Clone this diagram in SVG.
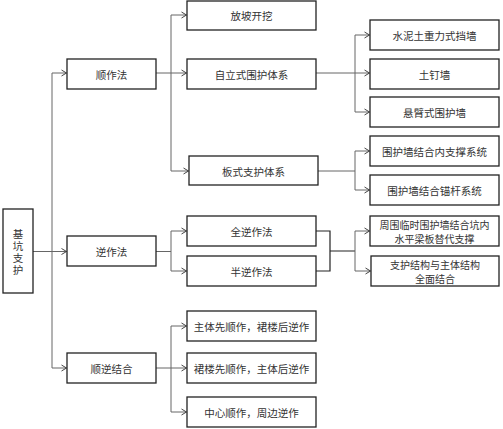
<svg xmlns="http://www.w3.org/2000/svg" width="503" height="429" viewBox="0 0 503 429">
<style>
.box{fill:#fff;stroke:#222;stroke-width:1.3}
.t{font-family:"Noto Sans CJK SC",sans-serif;font-size:10.5px;fill:#333;text-anchor:middle;dominant-baseline:central}
.t2{font-size:10px}
.c{fill:none;stroke:#666;stroke-width:1}
.d{fill:none;stroke:#222;stroke-width:1.2}
.a{fill:none;stroke:#666;stroke-width:1;marker-end:url(#ar)}
</style>
<defs>
<marker id="ar" markerWidth="8" markerHeight="8" refX="6" refY="4" orient="auto" markerUnits="userSpaceOnUse">
<polyline points="1,1 6,4 1,7" fill="none" stroke="#444" stroke-width="1"/>
</marker>
</defs>
<rect width="503" height="429" fill="#fff"/>
<g id="connectors">
<path class="c" d="M33,251.5H52M52,73V368"/>
<path class="a" d="M52,73H66.5"/>
<path class="a" d="M52,251.5H66.5"/>
<path class="a" d="M52,368H66.5"/>
<path class="c" d="M156,73H171M171,15V171"/>
<path class="a" d="M171,15H186.5"/>
<path class="a" d="M171,73H186.5"/>
<path class="a" d="M171,171H188.5"/>
<path class="c" d="M316,73H355M355,35V112"/>
<path class="a" d="M355,35H369.5"/>
<path class="a" d="M355,73H369.5"/>
<path class="a" d="M355,112H369.5"/>
<path class="c" d="M318,171H355M355,151V190"/>
<path class="a" d="M355,151H369.5"/>
<path class="a" d="M355,190H369.5"/>
<path class="c" d="M156,251.5H171M171,231V271"/>
<path class="a" d="M171,231H186.5"/>
<path class="a" d="M171,271H186.5"/>
<path class="d" d="M316,231H330V271H316M330,251H355"/>
<path class="c" d="M355,231V271"/>
<path class="a" d="M355,231H369.5"/>
<path class="a" d="M355,271H370.5"/>
<path class="c" d="M156,368H171M171,326V412"/>
<path class="a" d="M171,326H186.5"/>
<path class="a" d="M171,368H186.5"/>
<path class="a" d="M171,412H186.5"/>
</g>
<g id="root"><rect class="box" x="3" y="209" width="30" height="84"/>
<text class="t" x="18" y="253" writing-mode="tb" letter-spacing="1.5">基坑支护</text></g>
<g id="shunzuo"><rect class="box" x="67" y="59" width="89" height="30"/><text class="t" x="111.5" y="74">顺作法</text></g>
<g id="nizuo"><rect class="box" x="67" y="236" width="89" height="30"/><text class="t" x="111.5" y="251">逆作法</text></g>
<g id="shunni"><rect class="box" x="67" y="353" width="89" height="30"/><text class="t" x="111.5" y="368">顺逆结合</text></g>
<g id="fangpo"><rect class="box" x="187" y="1" width="129" height="29"/><text class="t" x="251.5" y="15.5">放坡开挖</text></g>
<g id="zili"><rect class="box" x="187" y="59" width="129" height="30"/><text class="t" x="251.5" y="74">自立式围护体系</text></g>
<g id="banshi"><rect class="box" x="189" y="156" width="129" height="29"/><text class="t" x="253.5" y="171">板式支护体系</text></g>
<g id="shuini"><rect class="box" x="370" y="20" width="129" height="30"/><text class="t" x="434.5" y="35">水泥土重力式挡墙</text></g>
<g id="tuding"><rect class="box" x="370" y="59" width="129" height="30"/><text class="t" x="434.5" y="74">土钉墙</text></g>
<g id="xuanbi"><rect class="box" x="370" y="97" width="129" height="30"/><text class="t" x="434.5" y="112">悬臂式围护墙</text></g>
<g id="neizhicheng"><rect class="box" x="370" y="136" width="129" height="30"/><text class="t" x="434.5" y="151">围护墙结合内支撑系统</text></g>
<g id="maogan"><rect class="box" x="370" y="175" width="129" height="30"/><text class="t" x="434.5" y="190">围护墙结合锚杆系统</text></g>
<g id="quanni"><rect class="box" x="187" y="216" width="129" height="30"/><text class="t" x="251.5" y="231">全逆作法</text></g>
<g id="banni"><rect class="box" x="187" y="256" width="129" height="30"/><text class="t" x="251.5" y="271">半逆作法</text></g>
<g id="zhouwei"><rect class="box" x="370" y="216" width="129" height="30"/><text class="t t2" x="434.5" y="223.8"><tspan x="434.5" y="223.8">周围临时围护墙结合坑内</tspan><tspan x="434.5" y="238.4">水平梁板替代支撑</tspan></text></g>
<g id="quanmian"><rect class="box" x="371" y="256" width="128" height="30"/><text class="t t2" x="435" y="263.8"><tspan x="435" y="263.8">支护结构与主体结构</tspan><tspan x="435" y="278.4">全面结合</tspan></text></g>
<g id="zhuti"><rect class="box" x="187" y="311" width="129" height="30"/><text class="t" x="251.5" y="326">主体先顺作，裙楼后逆作</text></g>
<g id="qunlou"><rect class="box" x="187" y="353" width="129" height="30"/><text class="t" x="251.5" y="368">裙楼先顺作，主体后逆作</text></g>
<g id="zhongxin"><rect class="box" x="187" y="397" width="129" height="30"/><text class="t" x="251.5" y="412">中心顺作，周边逆作</text></g>
</svg>
